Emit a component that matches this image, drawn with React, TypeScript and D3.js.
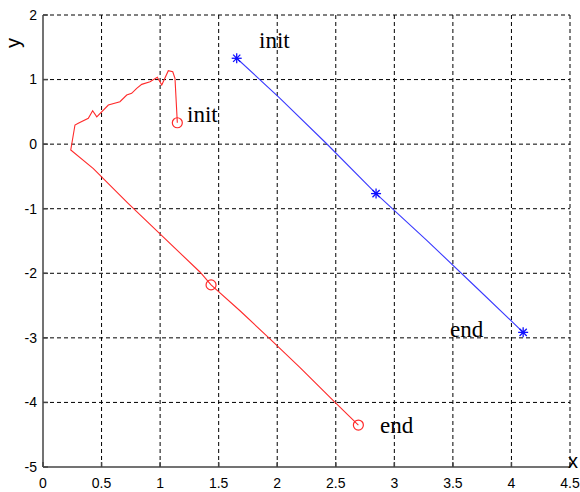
import { useEffect } from "react";
import * as d3 from "d3";

// Trajectory data
const RED_X = [1.147, 1.127, 1.108, 1.07, 1.014, 0.976, 0.914, 0.843, 0.8, 0.757, 0.715, 0.657, 0.558, 0.459, 0.424, 0.387, 0.301, 0.273, 0.237, 0.43, 0.729, 0.999, 1.34, 1.435, 1.682, 1.94, 2.195, 2.494, 2.693];
const RED_Y = [0.331, 1.02, 1.121, 1.137, 0.915, 1.035, 0.966, 0.926, 0.864, 0.787, 0.76, 0.657, 0.606, 0.424, 0.517, 0.4, 0.322, 0.296, -0.091, -0.38, -0.92, -1.39, -1.98, -2.18, -2.58, -3.02, -3.46, -4.0, -4.35];
const RED_MARKS = [0, 23, 28];

const BLUE_X = [1.654, 2.024, 2.42, 2.844, 3.277, 3.7, 4.1];
const BLUE_Y = [1.33, 0.71, 0.01, -0.766, -1.49, -2.22, -2.915];
const BLUE_MARKS = [0, 3, 6];

const X_TICKS = [0, 0.5, 1, 1.5, 2, 2.5, 3, 3.5, 4, 4.5];
const Y_TICKS = [-5, -4, -3, -2, -1, 0, 1, 2];

const W = 580;
const H = 492;
const PLOT = { left: 43, right: 570, top: 15, bottom: 467 };
const SANS = "Arial, 'Liberation Sans', sans-serif";
const SERIF = "'Times New Roman', 'Liberation Serif', serif";
const RED = "#ff2a2a";
const BLUE = "#3a3aff";

export default function App() {
  useEffect(() => {
    document.body.style.margin = "0";
  }, []);

  const x = d3.scaleLinear().domain([0, 4.5]).range([PLOT.left, PLOT.right]);
  const y = d3.scaleLinear().domain([-5, 2]).range([PLOT.bottom, PLOT.top]);

  const line = d3.line<[number, number]>().x((d) => x(d[0])).y((d) => y(d[1]));
  const redPts = RED_X.map((v, i) => [v, RED_Y[i]] as [number, number]);
  const bluePts = BLUE_X.map((v, i) => [v, BLUE_Y[i]] as [number, number]);

  const fmt = (v: number) => String(v);

  return (
    <svg width={W} height={H} style={{ display: "block", background: "white" }}>
      {/* dashed grid */}
      <g stroke="#000" strokeWidth={1} strokeDasharray="4,3">
        {X_TICKS.slice(1).map((t) => (
          <line key={`gx${t}`} x1={x(t)} x2={x(t)} y1={PLOT.top} y2={PLOT.bottom} />
        ))}
        {Y_TICKS.slice(1).map((t) => (
          <line key={`gy${t}`} x1={PLOT.left} x2={PLOT.right} y1={y(t)} y2={y(t)} />
        ))}
      </g>

      {/* axes */}
      <g stroke="#444" strokeWidth={1.5}>
        <line x1={PLOT.left} x2={PLOT.left} y1={PLOT.top} y2={PLOT.bottom} />
        <line x1={PLOT.left} x2={PLOT.right} y1={PLOT.bottom} y2={PLOT.bottom} />
        {X_TICKS.map((t) => (
          <line key={`tx${t}`} x1={x(t)} x2={x(t)} y1={PLOT.bottom} y2={PLOT.bottom - 5} />
        ))}
        {Y_TICKS.map((t) => (
          <line key={`ty${t}`} x1={PLOT.left} x2={PLOT.left + 5} y1={y(t)} y2={y(t)} />
        ))}
      </g>

      {/* tick labels */}
      <g fontFamily={SANS} fontSize={14} fill="#000">
        {X_TICKS.map((t) => (
          <text key={`lx${t}`} x={x(t)} y={488} textAnchor="middle">
            {fmt(t)}
          </text>
        ))}
        {Y_TICKS.map((t) => (
          <text key={`ly${t}`} x={PLOT.left - 6} y={y(t)} dy="0.35em" textAnchor="end">
            {fmt(t)}
          </text>
        ))}
      </g>

      {/* axis labels */}
      <text x={573} y={468} textAnchor="middle" fontFamily={SANS} fontSize={20}>
        x
      </text>
      <text
        transform="translate(20,43) rotate(-90)"
        textAnchor="middle"
        fontFamily={SANS}
        fontSize={20}
      >
        y
      </text>

      {/* red trajectory */}
      <path d={line(redPts) ?? ""} fill="none" stroke={RED} strokeWidth={1.1} />
      {RED_MARKS.map((i) => (
        <circle key={`rc${i}`} cx={x(RED_X[i])} cy={y(RED_Y[i])} r={5} fill="none" stroke={RED} strokeWidth={1.2} />
      ))}

      {/* blue trajectory */}
      <path d={line(bluePts) ?? ""} fill="none" stroke={BLUE} strokeWidth={1.1} />
      {BLUE_MARKS.map((i) => {
        const cx = x(BLUE_X[i]);
        const cy = y(BLUE_Y[i]);
        const r = 5;
        const d = r * 0.72;
        return (
          <g key={`bs${i}`} stroke="#1010ff" strokeWidth={1.3}>
            <line x1={cx - r} x2={cx + r} y1={cy} y2={cy} />
            <line x1={cx} x2={cx} y1={cy - r} y2={cy + r} />
            <line x1={cx - d} x2={cx + d} y1={cy - d} y2={cy + d} />
            <line x1={cx - d} x2={cx + d} y1={cy + d} y2={cy - d} />
            <circle cx={cx} cy={cy} r={1.6} fill="#1010ff" stroke="none" />
          </g>
        );
      })}

      {/* annotations */}
      <g fontFamily={SERIF} fontSize={23} fill="#000">
        <text x={259} y={48}>init</text>
        <text x={187} y={122}>init</text>
        <text x={450} y={337}>end</text>
        <text x={380} y={433}>end</text>
      </g>
    </svg>
  );
}
